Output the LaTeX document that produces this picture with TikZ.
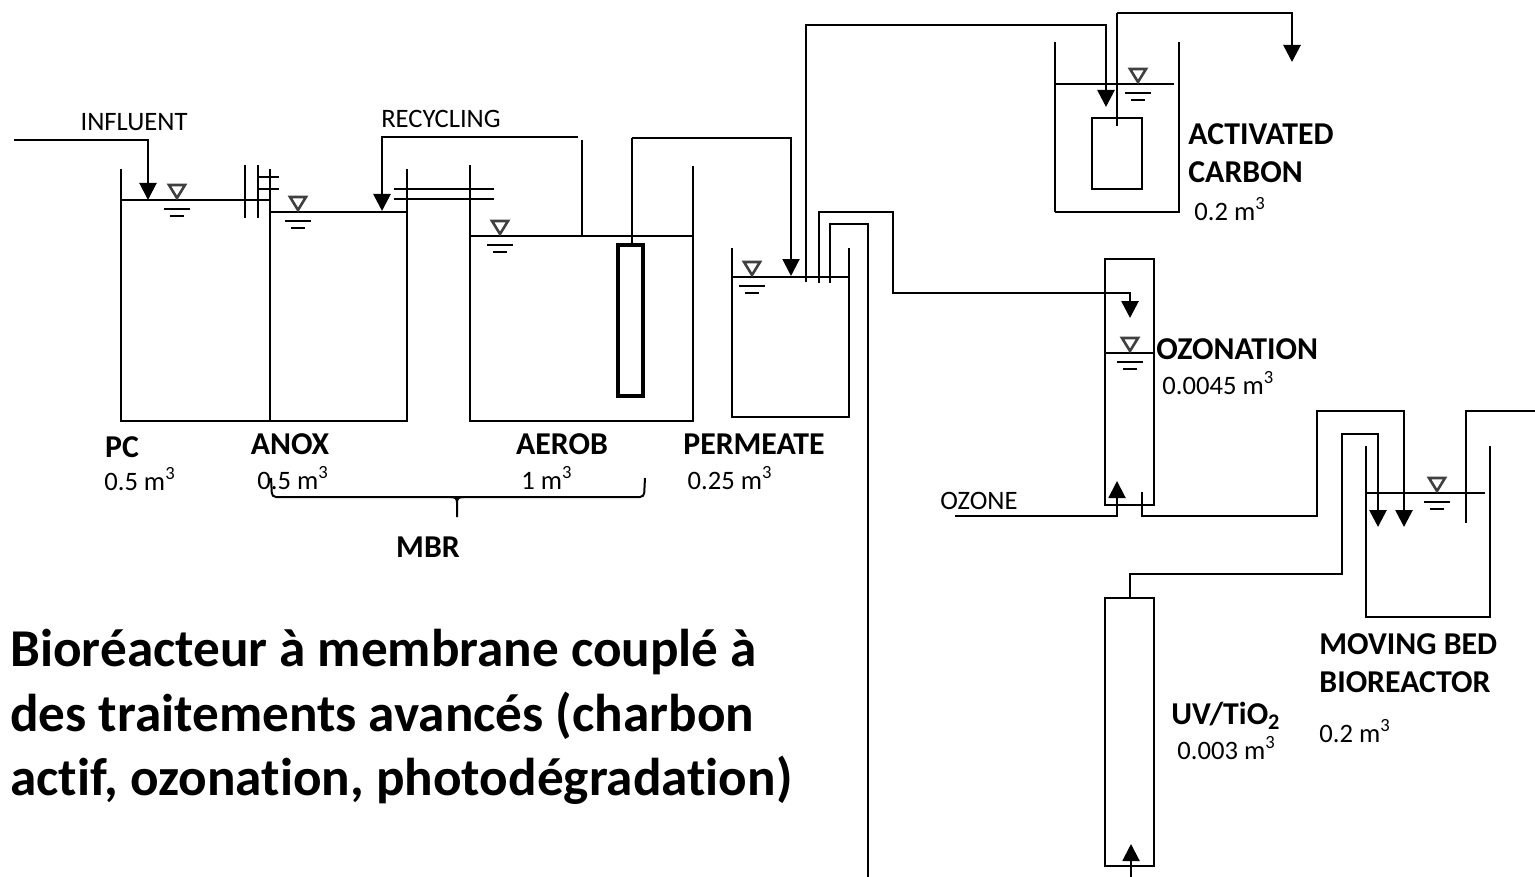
\documentclass[tikz,border=0pt]{standalone}
\usepackage{fontspec}
\setmainfont[Ligatures=NoCommon]{Carlito}
\usetikzlibrary{arrows.meta}
\definecolor{levelgray}{gray}{0.25}
\tikzset{
  wall/.style={black, line width=1.35pt},
  pipe/.style={black, line width=1.35pt},
  thinwall/.style={black, line width=1pt},
  flow/.style={-{Triangle[length=8.5pt,width=8.5pt]}},
  smalltext/.style={inner sep=0pt, font=\fontsize{13.3}{15}\selectfont},
  boldtext/.style={inner sep=0pt, font=\fontsize{15.9}{18}\selectfont\bfseries},
  titletext/.style={inner sep=0pt, font=\fontsize{26.6}{31}\selectfont\bfseries}
}
% water level mark: x, y of the surface
\newcommand{\levelmark}[2]{
  \draw[levelgray, line width=1.3pt] (#1,#2-2) -- (#1-8,#2-15) -- (#1+8,#2-15) -- cycle;
  \draw[thinwall] (#1-13,#2+9) -- (#1+13,#2+9);
  \draw[thinwall] (#1-7,#2+16) -- (#1+7,#2+16);
}
\begin{document}
\begin{tikzpicture}[x=0.5pt,y=-0.5pt]
            \useasboundingbox (0,0) rectangle (1535,877);

            % PC and ANOX
            \draw[wall] (121,169) -- (121,421) -- (407,421) -- (407,169);
            \draw[thinwall] (270,169) -- (270,421);
            \draw[thinwall] (121,200) -- (270,200);
            \draw[thinwall] (270,212) -- (407,212);
            \draw[thinwall] (245,165) -- (245,218);
            \draw[thinwall] (258,165) -- (258,218);
            \draw[wall] (258,177) -- (279,177);
            \draw[thinwall] (258,189) -- (279,189);
            \levelmark{177}{200}
            \levelmark{298}{212}

            % AEROB
            \draw[wall] (470,165) -- (470,421) -- (693,421) -- (693,166);
            \draw[thinwall] (470,236) -- (693,236);
            \draw[wall] (394,189) -- (494,189);
            \draw[thinwall] (394,199) -- (494,199);
            \draw[black, line width=2pt] (618,245) rectangle (643,396);
            \levelmark{500}{236}

            % PERMEATE
            \draw[wall] (732,248) -- (732,417) -- (849,417) -- (849,248);
            \draw[wall] (732,277) -- (849,277);
            \levelmark{752}{277}

            % activated carbon
            \draw[thinwall] (1055,42) -- (1055,212);
            \draw[wall] (1055,212) -- (1179,212) -- (1179,42);
            \draw[thinwall] (1055,84) -- (1174,84);
            \draw[thinwall] (1092,118) rectangle (1142,189);
            \levelmark{1138}{84}

            % ozonation and UV columns
            \draw[thinwall] (1105,259) rectangle (1154,505);
            \draw[thinwall] (1105,353) -- (1154,353);
            \levelmark{1130}{353}
            \draw[thinwall] (1105,598) rectangle (1154,866);

            % moving bed
            \draw[wall] (1366,446) -- (1366,617) -- (1490,617) -- (1490,446);
            \draw[thinwall] (1366,493) -- (1485,493);
            \levelmark{1437}{493}

            % pipes
            \draw[thinwall, flow] (14,140) -- (148,140) -- (148,200);
            \draw[pipe, flow] (578,137) -- (382,137) -- (382,211);
            \draw[thinwall] (582,140) -- (582,235);
            \draw[wall] (632,245) -- (632,138);
            \draw[thinwall, flow] (632,138) -- (791,138) -- (791,276);
            \draw[pipe, flow] (806,282) -- (806,25) -- (1106,25) -- (1106,107);
            \draw[pipe, flow] (819,283) -- (819,212) -- (893,212) -- (893,293) -- (1130,293) -- (1130,318);
            \draw[thinwall] (830,283) -- (830,224) -- (868,224) -- (868,877);
            \draw[thinwall] (1117,126) -- (1117,13);
            \draw[pipe, flow] (1117,13) -- (1292,13) -- (1292,62);
            \draw[thinwall, flow] (955,516) -- (1117,516) -- (1117,481);
            \draw[pipe, flow] (1142,492) -- (1142,516) -- (1317,516) -- (1317,411) -- (1404,411) -- (1404,527);
            \draw[pipe, flow] (1130,598) -- (1130,574) -- (1342,574) -- (1342,434) -- (1378,434) -- (1378,527);
            \draw[pipe] (1466,523) -- (1466,411) -- (1535,411);
            \draw[thinwall, flow] (1131,877) -- (1131,844);

            % brace
            \draw[thinwall, rounded corners=2pt] (271,478) -- (272,497) -- (644,497) -- (645,478);
            \draw[thinwall] (457,517) -- (457,503) .. controls (457,499) and (456,497) .. (451,497);
            \draw[thinwall] (457,503) .. controls (457,499) and (458,497) .. (463,497);

            % labels
            \node[smalltext] (influent) at (134,122) {INFLUENT};
            \node[smalltext] (recycling) at (441,119) {RECYCLING};
            \node[boldtext] (pc) at (122,447) {PC};
            \node[boldtext] (anox) at (290,444) {ANOX};
            \node[boldtext] (aerob) at (562,444) {AEROB};
            \node[boldtext] (permeate) at (754,444) {PERMEATE};
            \node[smalltext] (pcvol) at (140,479) {0.5 m\textsuperscript{3}};
            \node[smalltext] (anoxvol) at (293,478) {0.5 m\textsuperscript{3}};
            \node[smalltext] (aerobvol) at (547,478) {1 m\textsuperscript{3}};
            \node[smalltext] (permeatevol) at (730,478) {0.25 m\textsuperscript{3}};
            \node[boldtext] (mbr) at (428,547) {MBR};
            \node[boldtext, anchor=west] (activated) at (1188,134) {ACTIVATED};
            \node[boldtext, anchor=west] (carbon) at (1188,172) {CARBON};
            \node[smalltext, anchor=west] (carbonvol) at (1194,209) {0.2 m\textsuperscript{3}};
            \node[boldtext, anchor=west] (ozonation) at (1156,349) {OZONATION};
            \node[smalltext, anchor=west] (ozonationvol) at (1162,383) {0.0045 m\textsuperscript{3}};
            \node[smalltext] (ozone) at (979,501) {OZONE};
            \node[boldtext, anchor=west] (moving) at (1319,644) {MOVING BED};
            \node[boldtext, anchor=west] (bioreactor) at (1319,682) {BIOREACTOR};
            \node[smalltext, anchor=west] (bioreactorvol) at (1319,731) {0.2 m\textsuperscript{3}};
            \node[boldtext, anchor=west] (uv) at (1171,716) {UV/TiO\textsubscript{2}};
            \node[smalltext, anchor=west] (uvvol) at (1177,748) {0.003 m\textsuperscript{3}};
            \node[titletext, anchor=west] (titleone) at (10,652) {Bioréacteur à membrane couplé à};
            \node[titletext, anchor=west] (titletwo) at (10,716) {des traitements avancés (charbon};
            \node[titletext, anchor=west] (titlethree) at (10,780) {actif, ozonation, photodégradation)};
        \end{tikzpicture}
\end{document}
